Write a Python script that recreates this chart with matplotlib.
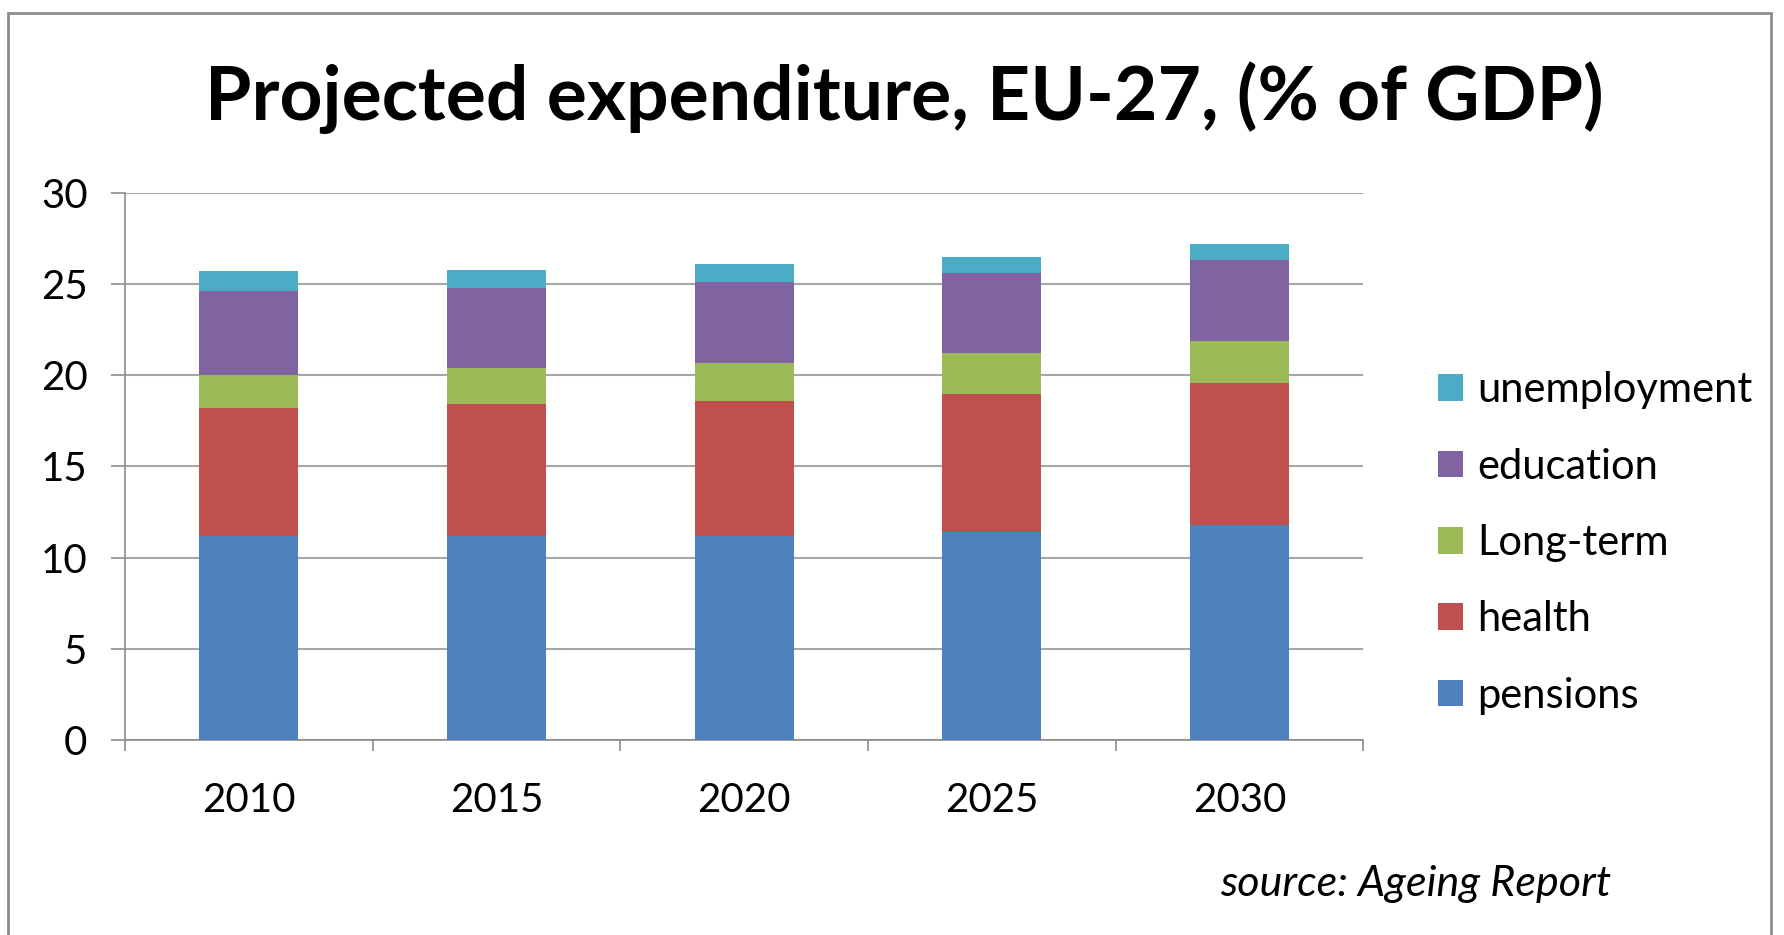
import matplotlib.pyplot as plt
import numpy as np
from matplotlib.patches import Rectangle

# data
years = ["2010", "2015", "2020", "2025", "2030"]
pensions = [11.2, 11.2, 11.2, 11.4, 11.8]
health = [7.0, 7.2, 7.4, 7.6, 7.8]
long_term = [1.8, 2.0, 2.1, 2.2, 2.3]
education = [4.6, 4.4, 4.4, 4.4, 4.4]
unemployment = [1.1, 1.0, 1.0, 0.9, 0.9]

series = [
    ("pensions", pensions, "#4F81BD"),
    ("health", health, "#C0504D"),
    ("Long-term", long_term, "#9BBB59"),
    ("education", education, "#8064A2"),
    ("unemployment", unemployment, "#4BACC6"),
]

plt.rcParams['font.family'] = ['Lato', 'DejaVu Sans']

fig = plt.figure(figsize=(17.84, 9.35), dpi=100)
ax = fig.add_axes([0.0701, 0.2086, 0.694, 0.585])

# marco exterior
fig.patches.append(Rectangle((0.0045, -0.02), 0.988, 1.006, transform=fig.transFigure,
                             fill=False, edgecolor="#8c8c8c", linewidth=2))

x = np.arange(len(years))
bottom = np.zeros(len(years))
handles = []
for name, vals, color in series:
    b = ax.bar(x, vals, width=0.4, bottom=bottom, color=color, label=name, zorder=3)
    handles.append(b)
    bottom += np.array(vals)

ax.set_xlim(-0.5, len(years) - 0.5)
ax.set_ylim(0, 30)
ax.set_yticks(range(0, 31, 5))
ax.yaxis.grid(True, color="#a6a6a6", linewidth=1.5, zorder=0)

# ticks del eje x en los limites de categoria
ax.set_xticks(np.arange(-0.5, len(years), 1.0))
ax.set_xticklabels([])
ax.set_xticks(x, minor=True)
ax.set_xticklabels(years, minor=True)
ax.tick_params(axis="x", which="major", length=8, width=1.2, color="#8c8c8c", direction="out")
ax.tick_params(axis="x", which="minor", length=0, pad=30, labelsize=29)
ax.tick_params(axis="y", length=10, width=1.2, color="#8c8c8c", pad=17, labelsize=29)

for s in ["top", "right"]:
    ax.spines[s].set_visible(False)
for s in ["left", "bottom"]:
    ax.spines[s].set_color("#8c8c8c")
    ax.spines[s].set_linewidth(1.2)

fig.text(0.507, 0.896, "Projected expenditure, EU-27, (% of GDP)", ha="center", va="center",
         fontsize=54, fontweight="bold")

ax.legend(handles[::-1], [s[0] for s in series][::-1], loc="center left",
          bbox_to_anchor=(1.03, 0.36), frameon=False, fontsize=30,
          handlelength=0.6, handleheight=0.6, handletextpad=0.35, labelspacing=0.92)

fig.text(0.903, 0.055, "source: Ageing Report", ha="right", va="center",
         fontsize=31, style="italic")

fig.savefig("out.png", dpi=100)
